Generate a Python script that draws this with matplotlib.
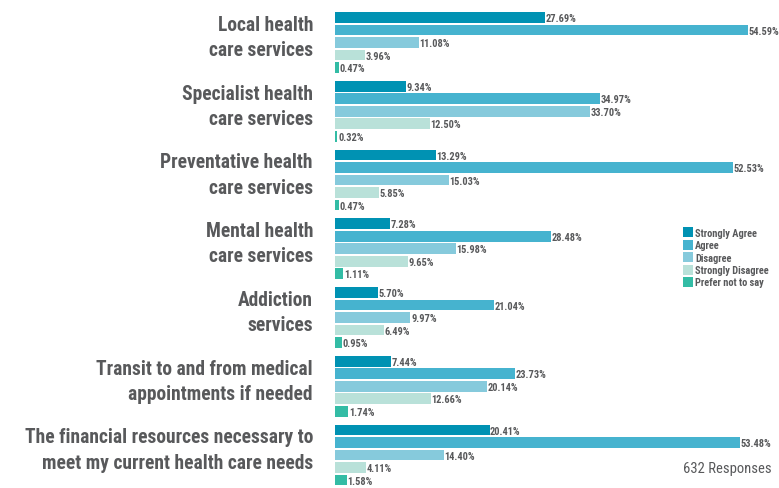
import numpy as np
import matplotlib
matplotlib.use("Agg")
import matplotlib.pyplot as plt
from matplotlib import font_manager
from matplotlib.patches import Patch

# data ==========================================================================
categories = [
    "Local health\ncare services",
    "Specialist health\ncare services",
    "Preventative health\ncare services",
    "Mental health\ncare services",
    "Addiction\nservices",
    "Transit to and from medical\nappointments if needed",
    "The financial resources necessary to\nmeet my current health care needs",
]
series_names = ["Strongly Agree", "Agree", "Disagree", "Strongly Disagree", "Prefer not to say"]
strongly_agree = [27.69, 9.34, 13.29, 7.28, 5.70, 7.44, 20.41]
agree = [54.59, 34.97, 52.53, 28.48, 21.04, 23.73, 53.48]
disagree = [11.08, 33.70, 15.03, 15.98, 9.97, 20.14, 14.40]
strongly_disagree = [3.96, 12.50, 5.85, 9.65, 6.49, 12.66, 4.11]
prefer_not = [0.47, 0.32, 0.47, 1.11, 0.95, 1.74, 1.58]
colors = ["#0092B3", "#46B3CF", "#86CADC", "#B9E1D9", "#33BCA5"]

# pick a condensed font if one is there
names = {f.name for f in font_manager.fontManager.ttflist}
font = "DejaVu Sans"
for cand in ["Liberation Sans Narrow", "DejaVu Sans Condensed", "Roboto Condensed", "Liberation Sans"]:
    if cand in names:
        font = cand
        break
plt.rcParams["font.family"] = [font, "DejaVu Sans"]
gray = "#58595B"

fig = plt.figure(figsize=(7.79, 4.89), dpi=100)
# left edge of bars at x=335 px, top bar centre at y=18.5 px, 12.5 px per bar slot
ax = fig.add_axes([335 / 779, 0, 444 / 779, 1])
ax.set_xlim(0, 444 / 7.57)
ax.set_ylim(37.64, -1.48)
ax.axis("off")

all_series = [strongly_agree, agree, disagree, strongly_disagree, prefer_not]
group_pitch = 5.5
for i, (vals, col) in enumerate(zip(all_series, colors)):
    ys = np.arange(len(categories)) * group_pitch + i
    ax.barh(ys, vals, height=0.87, color=col, linewidth=0)
    for y, v in zip(ys, vals):
        ax.text(v + 0.08, y + 0.05, f"{v:.2f}%", va="center", ha="left",
                fontsize=7.5, fontweight="bold", color=gray, clip_on=False)

# category labels, sized so the widest one spans about 290 px like the original
cat_texts = []
for g, cat in enumerate(categories):
    yc = g * group_pitch + 1.56
    t = ax.text(-22 / 7.57, yc, cat, ha="right", va="center", fontsize=14,
                fontweight="bold", color=gray, linespacing=1.42, clip_on=False)
    cat_texts.append(t)
renderer = fig.canvas.get_renderer()
widest = max(t.get_window_extent(renderer).width for t in cat_texts)
size = min(17, 14 * 290 / widest)
for t in cat_texts:
    t.set_fontsize(size)

handles = [Patch(facecolor=c, edgecolor="none", label=n) for c, n in zip(colors, series_names)]
leg = fig.legend(handles=handles, loc="upper left", bbox_to_anchor=(676 / 779, 1 - 221 / 489),
                 frameon=False, fontsize=7.5, handlelength=0.9, handleheight=1.1,
                 handletextpad=0.25, labelspacing=0.18, borderpad=0.2)
for t in leg.get_texts():
    t.set_color(gray)
    t.set_fontweight("bold")

fig.text(772 / 779, 1 - 469 / 489, "632 Responses", ha="right", va="center",
         fontsize=10.5, color=gray)

fig.savefig("out.png", dpi=100)
